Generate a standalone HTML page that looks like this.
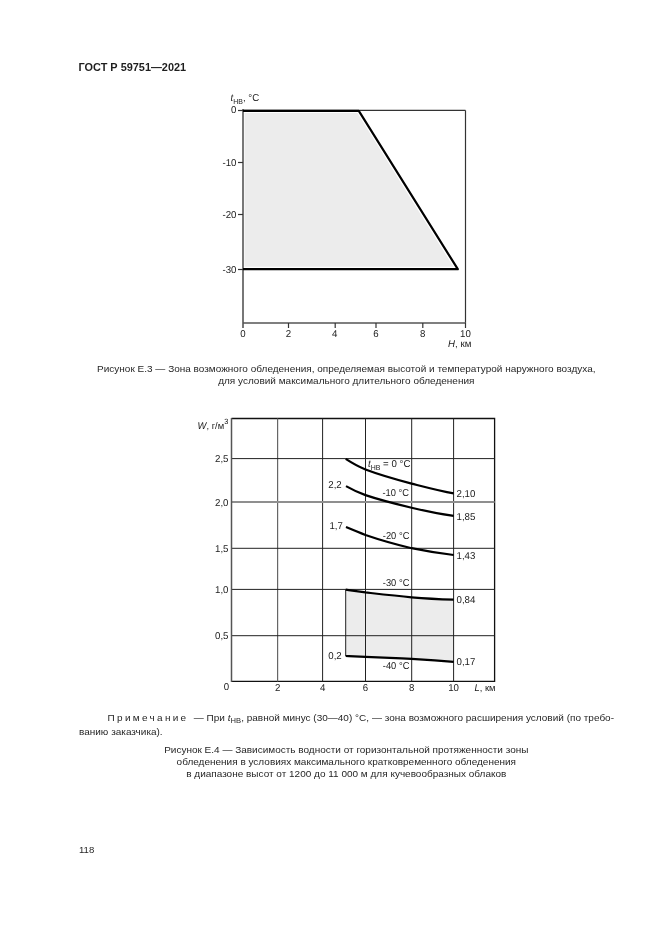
<!DOCTYPE html>
<html lang="ru">
<head>
<meta charset="utf-8">
<title>ГОСТ Р 59751—2021</title>
<style>
html,body{margin:0;padding:0;background:#fff;}
body{width:661px;height:935px;position:relative;overflow:hidden;font-family:"Liberation Sans",Arial,sans-serif;color:#222;}
.abs{position:absolute;white-space:nowrap;}
#hdr{left:78.6px;top:62.07px;font-weight:bold;font-size:10.9px;line-height:10.9px;color:#1e1e1e;}
.ln{position:absolute;font-size:10px;line-height:10px;white-space:nowrap;color:#262626;transform-origin:0 8.465px;}
.c{left:0;width:692.6px;text-align:center;transform:scaleY(0.92);}
.n{left:79px;width:535px;transform:scaleY(0.92);}
.n .sp{letter-spacing:2.3px;margin-right:2.5px;}
.n.l1{text-indent:28.6px;text-align:justify;text-align-last:justify;}
.n sub{font-size:7.6px;vertical-align:-2.6px;line-height:0;}
#pg{left:79px;top:844px;font-size:9.6px;line-height:12px;color:#262626;}
svg{position:absolute;left:0;top:0;}
svg{font-size:9.7px;}
svg text{font-family:"Liberation Sans",Arial,sans-serif;fill:#1a1a1a;text-rendering:geometricPrecision;}
</style>
</head>
<body>
<div id="hdr" class="abs">ГОСТ Р 59751—2021</div>

<svg width="661" height="935" viewBox="0 0 661 935">
  <!-- Chart E.3 -->
  <polygon points="244.5,113 357.4,113 453.4,266.8 244.5,266.8" fill="#ececec"/>
  <g stroke="#333" stroke-width="1.2" fill="none">
    <line x1="243" y1="110.4" x2="465.5" y2="110.4"/>
    <line x1="465.5" y1="110.4" x2="465.5" y2="323"/>
  </g>
  <g stroke="#555" stroke-width="1.6" fill="none">
    <line x1="243" y1="109" x2="243" y2="328"/>
    <line x1="243" y1="323" x2="466" y2="323"/>
  </g>
  <g stroke="#333" stroke-width="1.2">
    <line x1="238" y1="110.5" x2="243" y2="110.5"/>
    <line x1="238" y1="162.5" x2="243" y2="162.5"/>
    <line x1="238" y1="214.5" x2="243" y2="214.5"/>
    <line x1="238" y1="269.5" x2="243" y2="269.5"/>
    <line x1="288.5" y1="323" x2="288.5" y2="328"/>
    <line x1="335.2" y1="323" x2="335.2" y2="328"/>
    <line x1="376" y1="323" x2="376" y2="328"/>
    <line x1="422.8" y1="323" x2="422.8" y2="328"/>
    <line x1="465.5" y1="323" x2="465.5" y2="328"/>
  </g>
  <polyline points="243,110.8 358.8,110.8 457.8,269.2 243,269.2" fill="none" stroke="#000" stroke-width="2.2" stroke-linejoin="round"/>
  <g text-anchor="end">
    <text x="236.5" y="113.2" font-size="9.99" textLength="5.39" lengthAdjust="spacingAndGlyphs">0</text>
    <text x="236.5" y="165.5" font-size="9.99" textLength="14.02" lengthAdjust="spacingAndGlyphs">-10</text>
    <text x="236.5" y="217.6" font-size="9.99" textLength="14.02" lengthAdjust="spacingAndGlyphs">-20</text>
    <text x="236.5" y="272.6" font-size="9.99" textLength="14.02" lengthAdjust="spacingAndGlyphs">-30</text>
  </g>
  <g text-anchor="middle">
    <text x="243" y="337" font-size="9.99" textLength="5.39" lengthAdjust="spacingAndGlyphs">0</text>
    <text x="288.5" y="337" font-size="9.99" textLength="5.39" lengthAdjust="spacingAndGlyphs">2</text>
    <text x="334.6" y="337" font-size="9.99" textLength="5.39" lengthAdjust="spacingAndGlyphs">4</text>
    <text x="376" y="337" font-size="9.99" textLength="5.39" lengthAdjust="spacingAndGlyphs">6</text>
    <text x="422.8" y="337" font-size="9.99" textLength="5.39" lengthAdjust="spacingAndGlyphs">8</text>
    <text x="465.5" y="337" font-size="9.99" textLength="10.78" lengthAdjust="spacingAndGlyphs">10</text>
  </g>
  <text x="448" y="346.5" font-size="9.99" textLength="23.30" lengthAdjust="spacingAndGlyphs"><tspan font-style="italic">H</tspan>, км</text>
  <text x="230.5" y="101" font-size="9.99" textLength="28.70" lengthAdjust="spacingAndGlyphs"><tspan font-style="italic">t</tspan><tspan font-size="7.21" dy="2.8">НВ</tspan><tspan dy="-2.8">, °C</tspan></text>

  <!-- Chart E.4 -->
  <path d="M345.7,589.7 C355,590.9 365.5,592.4 365.5,592.4 C390,595 411.6,597.3 411.6,597.3 C430,598.6 453.7,599.7 453.7,599.7 L453.7,661.8 C430,660 411.6,658.8 411.6,658.8 C390,657.6 365.5,656.8 365.5,656.8 L345.7,656 Z" fill="#ececec"/>
  <path d="M231.5,418.5 H494.6 V681.3 H231.5" stroke="#111" stroke-width="1.3" fill="none" stroke-linejoin="miter"/>
  <g stroke="#222" stroke-width="1" fill="none">
    <line x1="277.6" y1="418.5" x2="277.6" y2="681.5" stroke="#666" stroke-width="1.2"/>
    <line x1="322.6" y1="418.5" x2="322.6" y2="681.5"/>
    <line x1="365.5" y1="418.5" x2="365.5" y2="681.5"/>
    <line x1="411.7" y1="418.5" x2="411.7" y2="681.5"/>
    <line x1="453.6" y1="418.5" x2="453.6" y2="681.5"/>
    <line x1="231.5" y1="458.6" x2="494.6" y2="458.6"/>
    <line x1="231.5" y1="548.3" x2="494.6" y2="548.3"/>
    <line x1="231.5" y1="589.4" x2="494.6" y2="589.4"/>
    <line x1="231.5" y1="635.7" x2="494.6" y2="635.7"/>
    <line x1="345.7" y1="589.7" x2="345.7" y2="656"/>
  </g>
  <line x1="231.5" y1="502" x2="494.6" y2="502" stroke="#8f8f8f" stroke-width="2"/>
  <line x1="231.5" y1="418" x2="231.5" y2="682" stroke="#555" stroke-width="1.5"/>
  <g stroke="#000" stroke-width="2.2" fill="none" stroke-linecap="butt">
    <path d="M345.7,458.9 C352,463 358,466.5 365.5,469.5 C380,475 396,479.5 411.6,483.6 C425,487 440,491 453.7,493.4"/>
    <path d="M346,486.1 C352,489.5 358,492.5 365.5,495.1 C380,500 396,504 411.6,507.7 C425,511 440,514 453.7,515.8"/>
    <path d="M346,527 C352,529.5 358,532 365.5,535 C380,540 396,544.5 411.6,548.2 C425,551 440,553.5 453.7,555"/>
    <path d="M345.7,589.7 C352,590.5 358,591.4 365.5,592.4 C380,594 396,595.8 411.6,597.3 C425,598.4 440,599.2 453.7,599.7"/>
    <path d="M345.7,656 C352,656.2 358,656.5 365.5,656.8 C380,657.4 396,658 411.6,658.8 C425,659.7 440,660.8 453.7,661.8"/>
  </g>
  <g text-anchor="end">
    <text x="228.5" y="462.2" font-size="9.99" textLength="13.47" lengthAdjust="spacingAndGlyphs">2,5</text>
    <text x="228.5" y="505.5" font-size="9.99" textLength="13.47" lengthAdjust="spacingAndGlyphs">2,0</text>
    <text x="228.5" y="552" font-size="9.99" textLength="13.47" lengthAdjust="spacingAndGlyphs">1,5</text>
    <text x="228.5" y="593" font-size="9.99" textLength="13.47" lengthAdjust="spacingAndGlyphs">1,0</text>
    <text x="228.5" y="639.3" font-size="9.99" textLength="13.47" lengthAdjust="spacingAndGlyphs">0,5</text>
  </g>
  <g text-anchor="middle">
    <text x="226.5" y="689.5" font-size="9.99" textLength="5.39" lengthAdjust="spacingAndGlyphs">0</text>
    <text x="277.6" y="691" font-size="9.99" textLength="5.39" lengthAdjust="spacingAndGlyphs">2</text>
    <text x="322.6" y="691" font-size="9.99" textLength="5.39" lengthAdjust="spacingAndGlyphs">4</text>
    <text x="365.5" y="691" font-size="9.99" textLength="5.39" lengthAdjust="spacingAndGlyphs">6</text>
    <text x="411.7" y="691" font-size="9.99" textLength="5.39" lengthAdjust="spacingAndGlyphs">8</text>
    <text x="453.6" y="691" font-size="9.99" textLength="10.78" lengthAdjust="spacingAndGlyphs">10</text>
  </g>
  <text x="474.6" y="691" font-size="9.68" textLength="20.98" lengthAdjust="spacingAndGlyphs"><tspan font-style="italic">L</tspan>, км</text>
  <text x="197.6" y="429" font-size="9.68" textLength="30.67" lengthAdjust="spacingAndGlyphs"><tspan font-style="italic">W</tspan>, г/м<tspan font-size="7.62" dy="-4.6">3</tspan></text>
  <text x="368" y="467.2" font-size="9.99" textLength="42.44" lengthAdjust="spacingAndGlyphs"><tspan font-style="italic">t</tspan><tspan font-size="7.21" dy="2.6">НВ</tspan><tspan dy="-2.6"> = 0 °C</tspan></text>
  <text x="328.3" y="488" font-size="9.99" textLength="13.47" lengthAdjust="spacingAndGlyphs">2,2</text>
  <text x="382.4" y="496" textLength="26.6" lengthAdjust="spacingAndGlyphs" font-size="9.99">-10 °C</text>
  <text x="456.5" y="497" font-size="9.99" textLength="18.86" lengthAdjust="spacingAndGlyphs">2,10</text>
  <text x="456.5" y="520" font-size="9.99" textLength="18.86" lengthAdjust="spacingAndGlyphs">1,85</text>
  <text x="329.4" y="529" font-size="9.99" textLength="13.47" lengthAdjust="spacingAndGlyphs">1,7</text>
  <text x="382.8" y="538.7" textLength="26.6" lengthAdjust="spacingAndGlyphs" font-size="9.99">-20 °C</text>
  <text x="456.5" y="558.7" font-size="9.99" textLength="18.86" lengthAdjust="spacingAndGlyphs">1,43</text>
  <text x="382.8" y="585.6" textLength="26.6" lengthAdjust="spacingAndGlyphs" font-size="9.99">-30 °C</text>
  <text x="456.5" y="603" font-size="9.99" textLength="18.86" lengthAdjust="spacingAndGlyphs">0,84</text>
  <text x="328.3" y="658.6" font-size="9.99" textLength="13.47" lengthAdjust="spacingAndGlyphs">0,2</text>
  <text x="382.8" y="669.3" textLength="26.6" lengthAdjust="spacingAndGlyphs" font-size="9.99">-40 °C</text>
  <text x="456.5" y="665" font-size="9.99" textLength="18.86" lengthAdjust="spacingAndGlyphs">0,17</text>
</svg>

<div class="ln c" style="top:364.135px">Рисунок Е.3 — Зона возможного обледенения, определяемая высотой и температурой наружного воздуха,</div>
<div class="ln c" style="top:375.935px">для условий максимального длительного обледенения</div>

<div class="ln n l1" style="top:713.335px"><span class="sp">Примечание</span> — При <i>t</i><sub>НВ</sub>, равной минус (30—40) °C, — зона возможного расширения условий (по требо-</div>
<div class="ln n" style="top:727.135px">ванию заказчика).</div>

<div class="ln c" style="top:745.135px">Рисунок Е.4 — Зависимость водности от горизонтальной протяженности зоны</div>
<div class="ln c" style="top:756.935px">обледенения в условиях максимального кратковременного обледенения</div>
<div class="ln c" style="top:768.835px">в диапазоне высот от 1200 до 11 000 м для кучевообразных облаков</div>

<div id="pg" class="abs">118</div>
</body>
</html>
